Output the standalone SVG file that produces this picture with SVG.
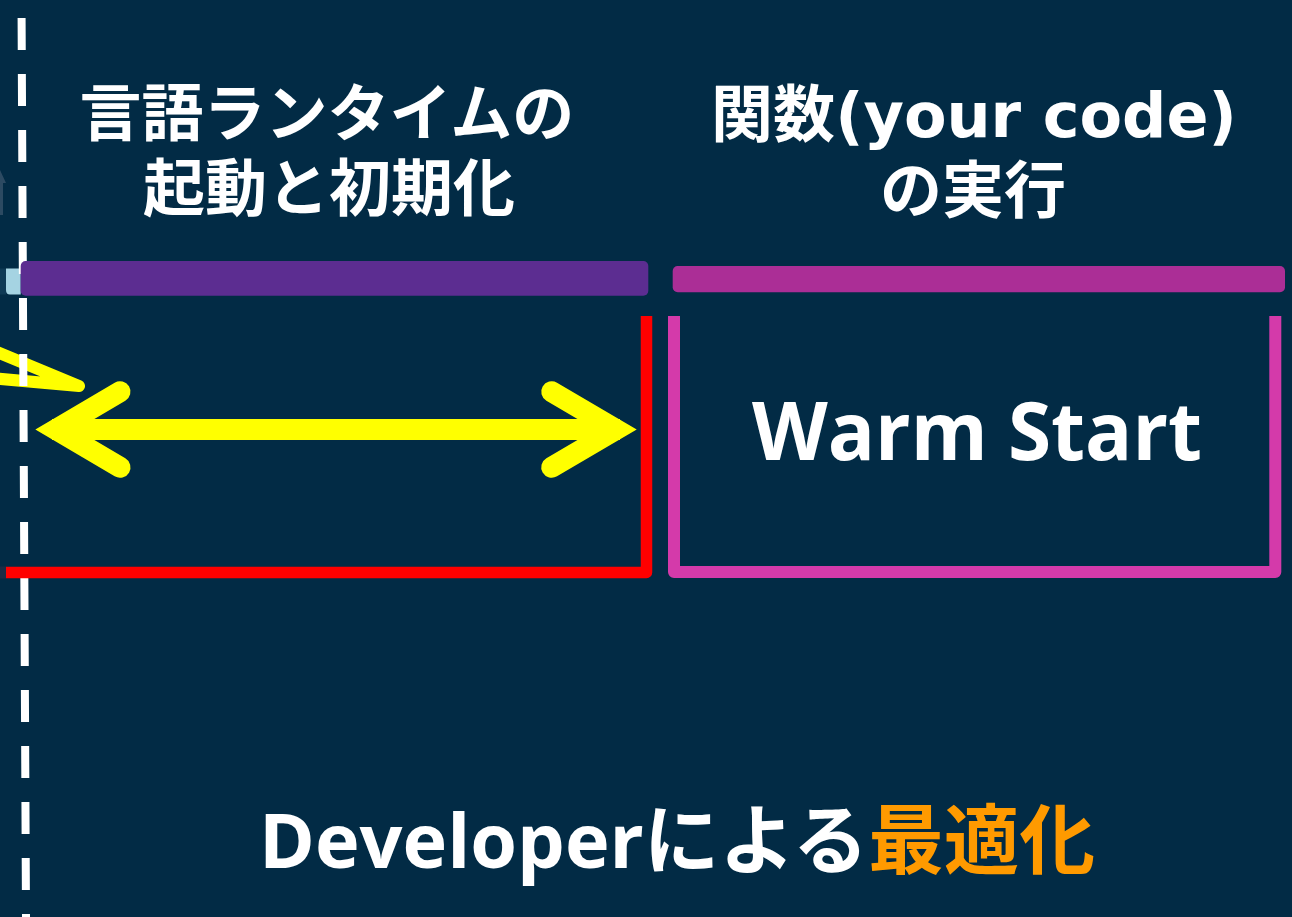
<svg xmlns="http://www.w3.org/2000/svg" width="1292" height="917" viewBox="0 0 1292 917">
<style>
.jp{font-family:"Noto Sans CJK JP",sans-serif;font-weight:700;fill:#ffffff}
.lat{font-family:"DejaVu Sans","Noto Sans CJK JP",sans-serif;font-weight:700}
.en{font-family:"Open Sans","Noto Sans CJK JP",sans-serif;font-weight:700;fill:#ffffff}
.yel{fill:none;stroke:#ffff00;stroke-width:21;stroke-linecap:round}
</style>
<rect x="0" y="0" width="1292" height="917" fill="#022b45"/>
<g id="edge-fragments">
<polygon points="0,170 6,183 3,183 3,215 -3,215 -3,183 -6,183" fill="#2c4a62"/>
<rect x="0" y="268.5" width="6" height="26" fill="#0f3a55"/>
<path d="M6,268.5 H20.7 V294.5 H10 Q6,294.5 6,290 Z" fill="#a5d3e2"/>
<rect x="0" y="566.5" width="6" height="12" fill="#1c2c45"/>
<polyline points="-10,349 79,386 -10,378" fill="none" stroke="#ffff00" stroke-width="12" stroke-linecap="round" stroke-linejoin="round"/>
</g>
<g id="divider">
<line x1="21.5" y1="0" x2="26" y2="917" stroke="#ffffff" stroke-width="8" stroke-dasharray="32 24" stroke-dashoffset="38"/>
</g>
<g id="runtime-phase">
<rect x="20.7" y="261" width="627.6" height="34.7" rx="5" fill="#5c2d91"/>
<text class="jp" font-size="62" text-anchor="middle"><tspan x="327" y="136">言語ランタイムの</tspan><tspan x="329" y="211">起動と初期化</tspan></text>
</g>
<g id="function-phase">
<rect x="672.7" y="266" width="612.3" height="26.3" rx="5" fill="#ab2e96"/>
<text class="jp" font-size="62" text-anchor="middle"><tspan x="974" y="137">関数<tspan class="lat">(your code)</tspan></tspan><tspan x="973" y="213">の実行</tspan></text>
</g>
<g id="cold-bracket">
<path d="M6,572.5 H646.5 V316" fill="none" stroke="#ff0000" stroke-width="11.5" stroke-linejoin="round"/>
</g>
<g id="warm-start">
<path d="M674,316 V572 H1275.3 V316" fill="none" stroke="#d43aaa" stroke-width="12" stroke-linejoin="round"/>
<text class="en" x="752" y="460" font-size="80" textLength="450" lengthAdjust="spacingAndGlyphs">Warm Start</text>
</g>
<g id="connectors">
<line x1="52" y1="429.5" x2="620" y2="429.5" stroke="#ffff00" stroke-width="21"/>
<polyline class="yel" points="120,391.7 56,429.5 120,467.3" stroke-linejoin="miter"/>
<polyline class="yel" points="551.7,391.7 616,429.5 551.7,467.3" stroke-linejoin="miter"/>
</g>
<g id="footer">
<text class="en" x="259" y="868" font-size="76" textLength="836" lengthAdjust="spacingAndGlyphs">Developerによる<tspan fill="#ff9a00">最適化</tspan></text>
</g>
</svg>
